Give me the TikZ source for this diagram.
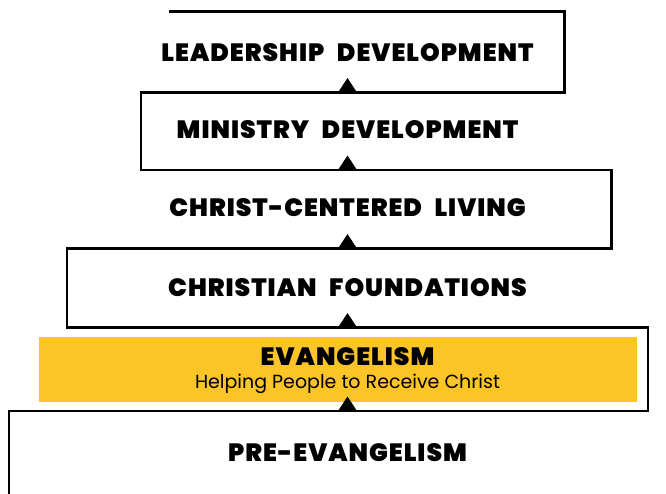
\documentclass[tikz,border=0pt]{standalone}
\usepackage{fontspec}
\setmainfont{Poppins}
\newfontfamily\stagefont{Poppins Black}[LetterSpace=4,WordSpace=2.4]
\usetikzlibrary{positioning}
\definecolor{evyellow}{HTML}{FCC527}

\begin{document}
\begin{tikzpicture}[x=1pt,y=-1pt,auto,
  stage node/.style={font=\fontsize{25}{28}\stagefont,inner sep=0pt},
  sub node/.style={font=\fontsize{19}{21}\selectfont,inner sep=0pt,anchor=base},
  stairs/.style={line width=2.7pt,line join=miter}]
  \useasboundingbox (0,0) rectangle (666,493);

  % highlighted stage
  \fill[evyellow] (39,337) rectangle (637,401.5);

  % the staircase outline
  \draw[stairs] (168.7,11.5) -- (564.7,11.5) -- (564.7,92.5) -- (141,92.5) -- (141,170)
    -- (611.3,170) -- (611.3,248.5) -- (67,248.5) -- (67,327.5) -- (648,327.5)
    -- (648,411) -- (9,411) -- (9,500);

  \node[stage node] (1) at (347.5,52.5) {LEADERSHIP DEVELOPMENT};
  \node[stage node] (2) at (347.5,129.5) {MINISTRY DEVELOPMENT};
  \node[stage node] (3) at (347.5,207.5) {CHRIST-CENTERED LIVING};
  \node[stage node] (4) at (347.5,287.5) {CHRISTIAN FOUNDATIONS};
  \node[stage node] (5) at (347.5,356.5) {EVANGELISM};
  \node[sub node] (5b) at (347.5,388.7) {Helping People to Receive Christ};
  \node[stage node] (6) at (347.5,452.5) {PRE-EVANGELISM};

  % steps up
  \fill (338,92.5) -- (347.5,78) -- (357,92.5) -- cycle;
  \fill (338,170) -- (347.5,155.5) -- (357,170) -- cycle;
  \fill (338,248.5) -- (347.5,234) -- (357,248.5) -- cycle;
  \fill (338,327.5) -- (347.5,313) -- (357,327.5) -- cycle;
  \fill (338,411) -- (347.5,396.5) -- (357,411) -- cycle;
\end{tikzpicture}
\end{document}
